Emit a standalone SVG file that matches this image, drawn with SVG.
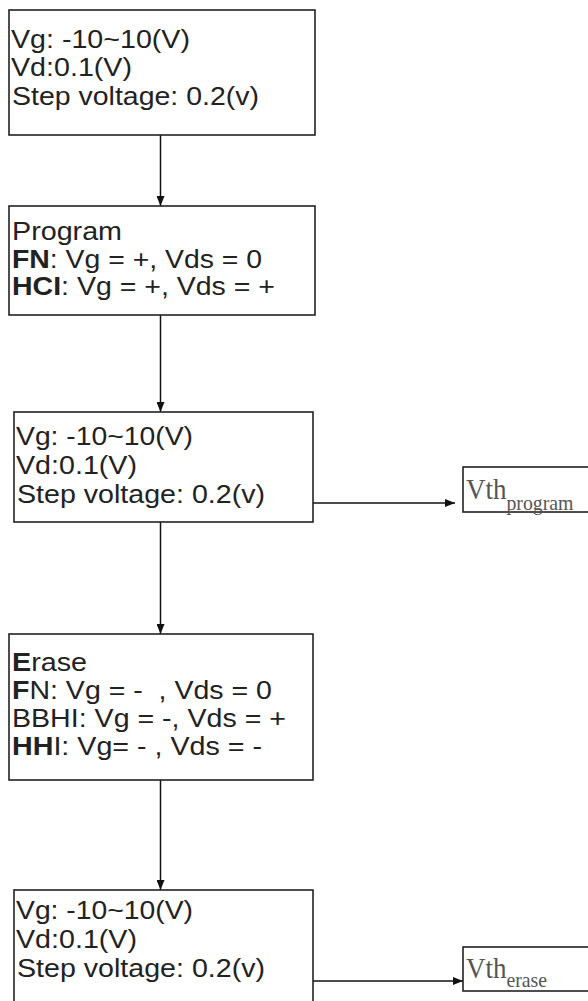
<svg xmlns="http://www.w3.org/2000/svg" width="588" height="1001" viewBox="0 0 588 1001">
<style>
.box{fill:#fff;stroke:#222;stroke-width:1.6}
.t{font-family:"Liberation Sans",Arial,sans-serif;font-size:26px;fill:#222;white-space:pre}
.b{font-weight:bold}
.vth{font-family:"Liberation Serif","Times New Roman",serif;font-size:30px;fill:#555}
.sub{font-size:22px}
.c{fill:none;stroke:#111;stroke-width:1.5}
</style>
<defs>
<marker id="ah" markerUnits="userSpaceOnUse" markerWidth="10" markerHeight="8" refX="10" refY="4" orient="auto">
<path d="M0,0 L10,4 L0,8 Z" fill="#111"/>
</marker>
</defs>
<rect width="588" height="1001" fill="#fff"/>
<g id="connectors">
<line class="c" x1="160.5" y1="135" x2="160.5" y2="206" marker-end="url(#ah)"/>
<line class="c" x1="160.5" y1="315" x2="160.5" y2="412" marker-end="url(#ah)"/>
<line class="c" x1="160.5" y1="522" x2="160.5" y2="634" marker-end="url(#ah)"/>
<line class="c" x1="160.5" y1="780" x2="160.5" y2="890" marker-end="url(#ah)"/>
<line class="c" x1="313" y1="503" x2="455" y2="503" marker-end="url(#ah)"/>
<line class="c" x1="313" y1="981" x2="463" y2="981" marker-end="url(#ah)"/>
</g>
<g id="measure1">
<rect class="box" x="9" y="10" width="306" height="125"/>
<text class="t" x="11" y="48" textLength="179" lengthAdjust="spacingAndGlyphs">Vg: -10~10(V)</text>
<text class="t" x="11" y="76" textLength="121" lengthAdjust="spacingAndGlyphs">Vd:0.1(V)</text>
<text class="t" x="12" y="105" textLength="247" lengthAdjust="spacingAndGlyphs">Step voltage: 0.2(v)</text>
</g>
<g id="program">
<rect class="box" x="9" y="206" width="306" height="109"/>
<text class="t" x="12" y="240" textLength="110" lengthAdjust="spacingAndGlyphs">Program</text>
<text class="t" x="12" y="268" textLength="250" lengthAdjust="spacingAndGlyphs"><tspan class="b">FN</tspan>: Vg = +, Vds = 0</text>
<text class="t" x="12" y="295" textLength="263" lengthAdjust="spacingAndGlyphs"><tspan class="b">HCI</tspan>: Vg = +, Vds = +</text>
</g>
<g id="measure2">
<rect class="box" x="14" y="412" width="299" height="110"/>
<text class="t" x="16" y="445" textLength="177" lengthAdjust="spacingAndGlyphs">Vg: -10~10(V)</text>
<text class="t" x="16" y="474" textLength="121" lengthAdjust="spacingAndGlyphs">Vd:0.1(V)</text>
<text class="t" x="17" y="503" textLength="248" lengthAdjust="spacingAndGlyphs">Step voltage: 0.2(v)</text>
</g>
<g id="vth-program">
<rect class="box" x="463" y="467" width="140" height="45"/>
<text class="vth" transform="translate(466,499) scale(0.9,1)">Vth<tspan class="sub" dy="11">program</tspan></text>
</g>
<g id="erase">
<rect class="box" x="9" y="634" width="304" height="146"/>
<text class="t" x="12" y="671" textLength="75" lengthAdjust="spacingAndGlyphs"><tspan class="b">E</tspan>rase</text>
<text class="t" x="12" y="699" textLength="260" lengthAdjust="spacingAndGlyphs"><tspan class="b">F</tspan>N: Vg = -  , Vds = 0</text>
<text class="t" x="12" y="727" textLength="274" lengthAdjust="spacingAndGlyphs">BBHI: Vg = -, Vds = +</text>
<text class="t" x="12" y="755" textLength="250" lengthAdjust="spacingAndGlyphs"><tspan class="b">HH</tspan>I: Vg= - , Vds = -</text>
</g>
<g id="measure3">
<rect class="box" x="14" y="890" width="299" height="130"/>
<text class="t" x="16" y="919" textLength="177" lengthAdjust="spacingAndGlyphs">Vg: -10~10(V)</text>
<text class="t" x="16" y="948" textLength="121" lengthAdjust="spacingAndGlyphs">Vd:0.1(V)</text>
<text class="t" x="17" y="977" textLength="248" lengthAdjust="spacingAndGlyphs">Step voltage: 0.2(v)</text>
</g>
<g id="vth-erase">
<rect class="box" x="463" y="947" width="140" height="44"/>
<text class="vth" transform="translate(466,978) scale(0.9,1)">Vth<tspan class="sub" dy="9">erase</tspan></text>
</g>
</svg>
